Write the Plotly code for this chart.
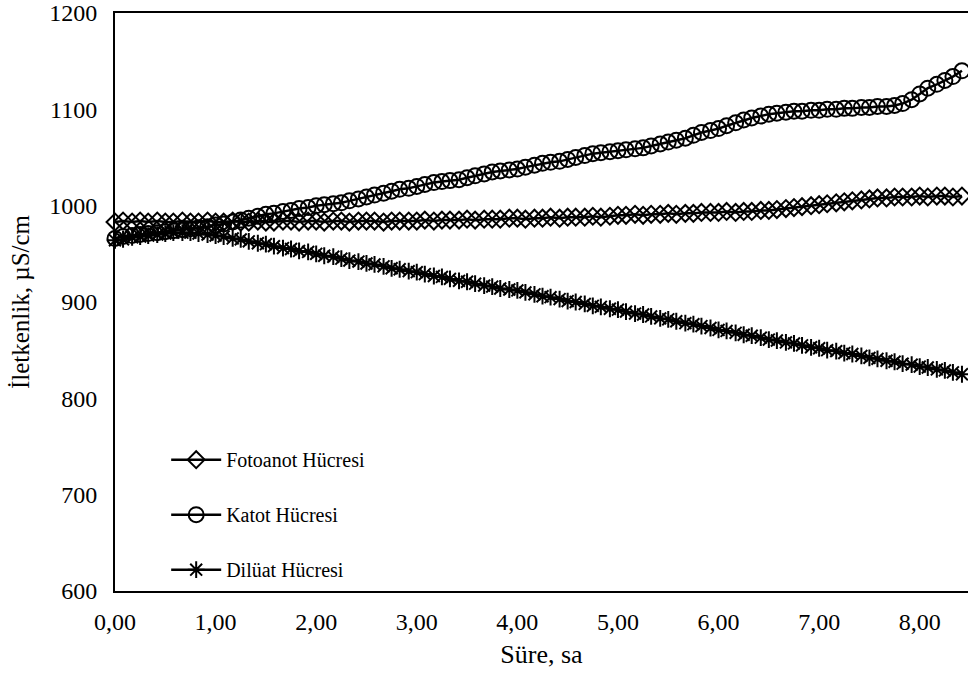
import plotly.graph_objects as go

# Sampling times (hours, every 5 minutes)
sure_sa = [
    0.00, 0.08, 0.17, 0.25, 0.33, 0.42, 0.50, 0.58, 0.67, 0.75, 0.83, 0.92,
    1.00, 1.08, 1.17, 1.25, 1.33, 1.42, 1.50, 1.58, 1.67, 1.75, 1.83, 1.92,
    2.00, 2.08, 2.17, 2.25, 2.33, 2.42, 2.50, 2.58, 2.67, 2.75, 2.83, 2.92,
    3.00, 3.08, 3.17, 3.25, 3.33, 3.42, 3.50, 3.58, 3.67, 3.75, 3.83, 3.92,
    4.00, 4.08, 4.17, 4.25, 4.33, 4.42, 4.50, 4.58, 4.67, 4.75, 4.83, 4.92,
    5.00, 5.08, 5.17, 5.25, 5.33, 5.42, 5.50, 5.58, 5.67, 5.75, 5.83, 5.92,
    6.00, 6.08, 6.17, 6.25, 6.33, 6.42, 6.50, 6.58, 6.67, 6.75, 6.83, 6.92,
    7.00, 7.08, 7.17, 7.25, 7.33, 7.42, 7.50, 7.58, 7.67, 7.75, 7.83, 7.92,
    8.00, 8.08, 8.17, 8.25, 8.33, 8.42,
]

# Conductivity, µS/cm
fotoanot = [
    983, 984, 983, 984, 983, 984, 983, 983, 984, 983, 983, 984,
    983, 983, 984, 983, 983, 984, 983, 983, 984, 984, 983, 984,
    984, 983, 984, 984, 983, 984, 984, 984, 983, 984, 984, 984,
    984, 985, 984, 985, 985, 985, 986, 985, 986, 986, 986, 987,
    987, 986, 987, 987, 988, 987, 988, 988, 988, 989, 988, 989,
    990, 990, 991, 990, 991, 991, 992, 991, 992, 992, 993, 993,
    993, 994, 993, 994, 994, 995, 995, 996, 997, 998, 999, 1000,
    1001, 1002, 1003, 1004, 1005, 1006, 1007, 1008, 1008, 1009, 1009, 1009,
    1010, 1009, 1010, 1010, 1009, 1010,
]

katot = [
    966, 968, 969, 970, 971, 972, 973, 974, 975, 976, 977, 978,
    980, 981, 983, 985, 987, 989, 991, 992, 994, 995, 997, 998,
    1000, 1001, 1002, 1003, 1005, 1007, 1009, 1011, 1013, 1015, 1017, 1018,
    1020, 1022, 1024, 1025, 1026, 1027, 1029, 1031, 1033, 1035, 1036, 1037,
    1038, 1040, 1042, 1044, 1045, 1046, 1048, 1050, 1052, 1054, 1055, 1056,
    1057, 1058, 1059, 1060, 1062, 1064, 1066, 1068, 1070, 1073, 1076, 1078,
    1080, 1083, 1086, 1089, 1091, 1093, 1095, 1096, 1097, 1098, 1098, 1099,
    1099, 1100, 1100, 1101, 1101, 1102, 1102, 1103, 1103, 1104, 1106, 1110,
    1116, 1122, 1126, 1130, 1134, 1140,
]

diluat = [
    964, 965, 967, 968, 969, 970, 971, 972, 972, 972, 971, 970,
    969, 968, 966, 965, 963, 961, 960, 958, 956, 955, 953, 952,
    950, 948, 947, 945, 943, 942, 940, 939, 937, 935, 934, 932,
    931, 929, 927, 926, 924, 922, 921, 919, 917, 916, 914, 913,
    912, 910, 908, 906, 905, 903, 901, 900, 898, 896, 895, 893,
    892, 890, 888, 887, 885, 883, 882, 880, 878, 877, 875, 873,
    871, 870, 868, 866, 865, 863, 861, 860, 858, 857, 855, 853,
    852, 850, 849, 847, 846, 844, 842, 841, 839, 838, 836, 835,
    833, 832, 830, 829, 827, 825,
]

series_names = ["Fotoanot Hücresi", "Katot Hücresi", "Dilüat Hücresi"]
x_ticks = [0, 1, 2, 3, 4, 5, 6, 7, 8]
y_ticks = [600, 700, 800, 900, 1000, 1100, 1200]

FONT = "Liberation Serif, Times New Roman, serif"

styles = [
    dict(symbol="diamond-open", size=13),
    dict(symbol="circle-open", size=15),
    dict(symbol="asterisk-open", size=14),
]

fig = go.Figure()
for name, ys, st, grp in zip(series_names, [fotoanot, katot, diluat], styles, ["a", "b", "c"]):
    fig.add_trace(go.Scatter(
        x=sure_sa, y=ys, name=name, mode="lines+markers",
        legendgroup=grp,
        line=dict(color="black", width=2.5),
        marker=dict(symbol=st["symbol"], size=st["size"], color="black",
                    line=dict(color="black", width=2)),
        cliponaxis=False,
    ))

fig.update_layout(
    width=968, height=677,
    margin=dict(l=115, r=0, t=13, b=86),
    paper_bgcolor="white", plot_bgcolor="white",
    font=dict(family=FONT, size=20, color="black"),
    separators=", ",
    showlegend=True,
    legend=dict(
        x=0.06, y=0.261, xanchor="left", yanchor="top",
        bgcolor="rgba(0,0,0,0)", borderwidth=0,
        font=dict(family=FONT, size=20, color="black"),
        tracegroupgap=26, itemwidth=50,
        traceorder="grouped",
    ),
    xaxis=dict(
        range=[0, 8.48], tickvals=x_ticks, tickformat=".2f",
        tickfont=dict(family=FONT, size=24),
        showgrid=False, zeroline=False,
        showline=True, linecolor="black", linewidth=2, mirror=True,
        ticks="", ticklabelstandoff=8,
        title=dict(text="Süre, sa", font=dict(family=FONT, size=26), standoff=11),
    ),
    yaxis=dict(
        range=[600, 1200], tickvals=y_ticks, tickformat="d",
        tickfont=dict(family=FONT, size=24),
        showgrid=False, zeroline=False,
        showline=True, linecolor="black", linewidth=2, mirror=False,
        ticks="", ticklabelstandoff=11,
        title=dict(text="İletkenlik, µS/cm", font=dict(family=FONT, size=25), standoff=12),
    ),
)

fig.write_html("out.html")
